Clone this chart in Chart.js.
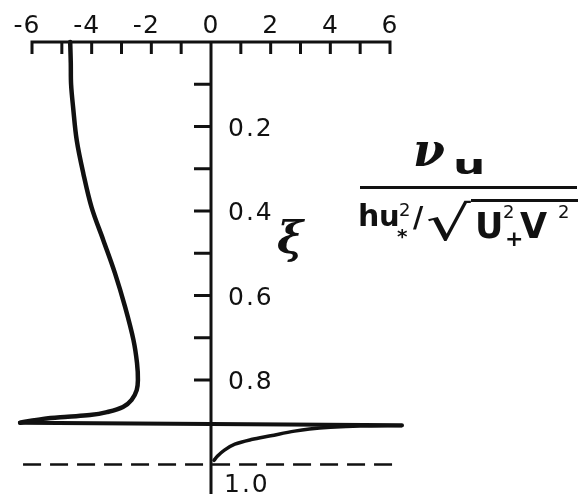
<!DOCTYPE html>
<html>
<head>
<meta charset="utf-8">
<script src="https://cdn.jsdelivr.net/npm/chart.js@4.4.1/dist/chart.umd.min.js"></script>
<style>
  html, body { margin: 0; padding: 0; background: #fff; }
  #wrap { position: relative; width: 587px; height: 499px; overflow: hidden; background: #fff; }
  #wrap canvas { position: absolute; left: 0; top: 0; }
  .t { position: absolute; line-height: 1; color: #111; font-family: 'DejaVu Sans', sans-serif; white-space: nowrap; }
  .b { font-weight: bold; }
  .serif { font-family: 'DejaVu Serif', serif; font-style: italic; font-weight: bold; }
  .rule { position: absolute; background: #111; }
</style>
</head>
<body>
<div id="wrap">
  <canvas id="chart" width="587" height="499"></canvas>

  <!-- axis symbol -->
  <span class="t serif" style="left:277px; top:216px; font-size:44px;">ξ</span>

  <!-- ν_u / (h u*² / √(U²+V²)) -->
  <span class="t serif" style="left:413px; top:127px; font-size:46px;">ν</span>
  <span class="t b" style="left:453px; top:152px; font-size:26px; transform:scaleX(1.75); transform-origin:left;">u</span>
  <div class="rule" style="left:360px; top:186px; width:217px; height:3px;"></div>
  <span class="t b" style="left:358px; top:201px; font-size:30px;">h</span>
  <span class="t b" style="left:379px; top:202px; font-size:29px;">u</span>
  <span class="t" style="left:399px; top:201px; font-size:18px;">2</span>
  <span class="t b" style="left:397px; top:226px; font-size:20px;">*</span>
  <span class="t b" style="left:413px; top:204px; font-size:28px;">/</span>
  <span class="t" style="left:426px; top:199px; font-size:44px; transform:scale(1.6,1.1); transform-origin:left top;">√</span>
  <div class="rule" style="left:471px; top:199px; width:107px; height:3px;"></div>
  <span class="t b" style="left:475px; top:209px; font-size:35px;">U</span>
  <span class="t" style="left:503px; top:203px; font-size:18px;">2</span>
  <span class="t b" style="left:505px; top:228px; font-size:22px;">+</span>
  <span class="t b" style="left:520px; top:209px; font-size:35px;">V</span>
  <span class="t" style="left:558px; top:203px; font-size:18px;">2</span>
</div>
<script>
// tick positions and labels
const xTicks = [-6, -5, -4, -3, -2, -1, 0, 1, 2, 3, 4, 5, 6];
const xTickLabels = [-6, -4, -2, 0, 2, 4, 6];
const yTicks = [0.1, 0.2, 0.3, 0.4, 0.5, 0.6, 0.7, 0.8];
const yTickLabels = ['0.2', '0.4', '0.6', '0.8'];
const yTickLabelValues = [0.2, 0.4, 0.6, 0.8];

// upper branch of the profile (nu vs xi)
const upperXi = [0.0, 0.05, 0.10, 0.156, 0.233, 0.311, 0.392, 0.469, 0.547, 0.627, 0.705, 0.760, 0.800, 0.824, 0.847, 0.864, 0.876, 0.883, 0.887, 0.892, 0.901];
const upperNu = [-4.72, -4.70, -4.69, -4.62, -4.50, -4.28, -4.00, -3.61, -3.22, -2.88, -2.60, -2.48, -2.45, -2.49, -2.66, -2.95, -3.49, -4.06, -4.80, -5.63, -6.40];

// singular jump across the plot
const spikeXi = [0.901, 0.907];
const spikeNu = [-6.40, 6.40];

// lower branch coming back from the right
const lowerXi = [0.908, 0.909, 0.912, 0.916, 0.921, 0.932, 0.941, 0.952, 0.966, 0.980, 0.990];
const lowerNu = [6.40, 5.0, 4.0, 3.3, 2.8, 2.0, 1.35, 0.8, 0.45, 0.22, 0.10];

// dashed level xi = 1
const baseXi = [1.0, 1.0];
const baseNu = [-6.3, 6.35];

const yAxisEnd = 1.07;
const ink = '#111';

const zip = (xs, ys) => xs.map((x, i) => ({ x, y: ys[i] }));

const paperAxes = {
  id: 'paperAxes',
  beforeDatasetsDraw(chart) {
    const ctx = chart.ctx;
    const xs = chart.scales.x;
    const ys = chart.scales.y;
    const x0 = xs.getPixelForValue(0);
    const top = ys.getPixelForValue(0);

    ctx.save();
    ctx.strokeStyle = ink;
    ctx.lineWidth = 3;
    ctx.beginPath();
    ctx.moveTo(xs.getPixelForValue(-6) - 1.5, top);
    ctx.lineTo(xs.getPixelForValue(6) + 1.5, top);
    xTicks.forEach(v => {
      const px = xs.getPixelForValue(v);
      ctx.moveTo(px, top);
      ctx.lineTo(px, top + 12);
    });
    ctx.moveTo(x0, top);
    ctx.lineTo(x0, ys.getPixelForValue(yAxisEnd));
    yTicks.forEach(v => {
      const py = ys.getPixelForValue(v);
      ctx.moveTo(x0 - 17, py);
      ctx.lineTo(x0, py);
    });
    ctx.stroke();

    ctx.fillStyle = ink;
    ctx.font = '25px "DejaVu Sans"';
    ctx.textBaseline = 'alphabetic';
    ctx.textAlign = 'right';
    ctx.letterSpacing = '1px';
    xTickLabels.forEach(v => {
      const px = xs.getPixelForValue(v);
      const digit = String(Math.abs(v));
      const half = ctx.measureText(digit).width / 2;
      const label = v < 0 ? '-' + digit : digit;
      ctx.fillText(label, px + half, top - 9);
    });

    ctx.textAlign = 'left';
    ctx.letterSpacing = '2px';
    yTickLabels.forEach((lab, i) => {
      ctx.fillText(lab, x0 + 17, ys.getPixelForValue(yTickLabelValues[i]) + 9);
    });
    ctx.fillText('1.0', x0 + 13, ys.getPixelForValue(1.0) + 27);
    ctx.restore();
  }
};

const lineStyle = {
  borderColor: ink,
  borderWidth: 4.5,
  pointRadius: 0,
  fill: false,
  clip: false,
  capBezierPoints: false,
  borderCapStyle: 'round',
  borderJoinStyle: 'round'
};

new Chart(document.getElementById('chart'), {
  type: 'line',
  data: {
    datasets: [
      { ...lineStyle, label: 'upper', data: zip(upperNu, upperXi), tension: 0.35 },
      { ...lineStyle, label: 'jump', data: zip(spikeNu, spikeXi), tension: 0, borderWidth: 4 },
      { ...lineStyle, label: 'lower', data: zip(lowerNu, lowerXi), tension: 0.35, borderWidth: 3.5 },
      { ...lineStyle, label: 'xi = 1', data: zip(baseNu, baseXi), tension: 0, borderWidth: 2.5, borderDash: [18, 9], borderCapStyle: 'butt' }
    ]
  },
  options: {
    responsive: false,
    animation: false,
    layout: { padding: { left: 32, top: 42, right: 197, bottom: 34.5 } },
    plugins: { legend: { display: false }, tooltip: { enabled: false } },
    elements: { line: { capBezierPoints: false } },
    scales: {
      x: { type: 'linear', min: -6, max: 6, display: false },
      y: { type: 'linear', min: 0, max: 1, reverse: true, display: false }
    }
  },
  plugins: [paperAxes]
});
</script>
</body>
</html>
